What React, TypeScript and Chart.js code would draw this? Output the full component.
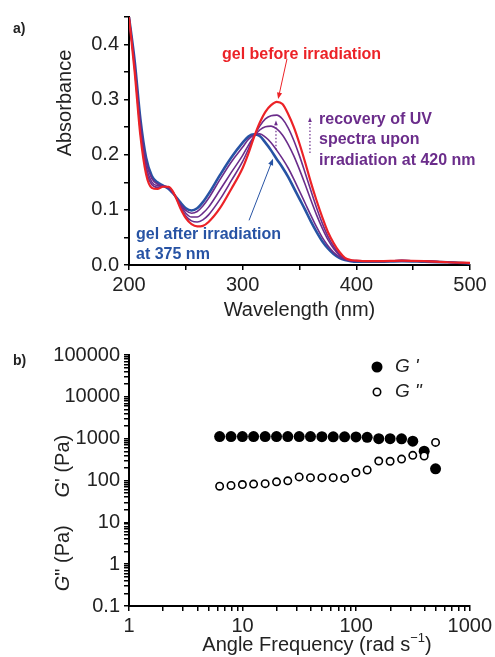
import React, { useEffect, useRef } from 'react';
import { Chart, registerables } from 'chart.js';

Chart.register(...registerables);

const FONT = '"Liberation Sans", Arial, Helvetica, sans-serif';

// ---------- Panel a: UV-vis spectra ----------
const WAVELENGTH = [200, 205, 210, 215, 220, 225, 230, 235, 240, 245, 250, 255, 260, 265, 270, 280, 290, 300, 305, 310, 315, 320, 325, 330, 335, 340, 345, 350, 355, 360, 365, 370, 375, 380, 385, 390, 395, 400, 410, 420, 440, 460, 480, 500];

const ABS_BEFORE = [0.45, 0.35, 0.235, 0.165, 0.140, 0.138, 0.142, 0.142, 0.128, 0.104, 0.085, 0.074, 0.070, 0.071, 0.078, 0.103, 0.138, 0.176, 0.202, 0.232, 0.258, 0.278, 0.290, 0.296, 0.292, 0.274, 0.250, 0.220, 0.186, 0.150, 0.117, 0.087, 0.060, 0.040, 0.024, 0.013, 0.009, 0.008, 0.007, 0.007, 0.008, 0.007, 0.005, 0.004];
const ABS_STEP3 = [0.45, 0.355, 0.242, 0.172, 0.146, 0.141, 0.143, 0.141, 0.128, 0.106, 0.089, 0.080, 0.078, 0.082, 0.091, 0.119, 0.153, 0.188, 0.210, 0.233, 0.252, 0.265, 0.271, 0.272, 0.265, 0.249, 0.226, 0.198, 0.167, 0.135, 0.104, 0.076, 0.052, 0.034, 0.020, 0.012, 0.008, 0.008, 0.007, 0.007, 0.008, 0.007, 0.005, 0.003];
const ABS_STEP2 = [0.45, 0.36, 0.250, 0.180, 0.151, 0.144, 0.143, 0.140, 0.127, 0.109, 0.094, 0.087, 0.087, 0.094, 0.105, 0.136, 0.168, 0.199, 0.217, 0.233, 0.245, 0.251, 0.252, 0.247, 0.236, 0.219, 0.198, 0.173, 0.146, 0.118, 0.091, 0.067, 0.046, 0.030, 0.018, 0.011, 0.008, 0.007, 0.007, 0.007, 0.008, 0.007, 0.005, 0.003];
const ABS_STEP1 = [0.45, 0.365, 0.258, 0.188, 0.157, 0.147, 0.143, 0.139, 0.127, 0.111, 0.099, 0.094, 0.097, 0.107, 0.121, 0.155, 0.187, 0.214, 0.228, 0.236, 0.238, 0.232, 0.222, 0.208, 0.193, 0.176, 0.156, 0.134, 0.112, 0.090, 0.069, 0.050, 0.035, 0.023, 0.015, 0.010, 0.007, 0.007, 0.007, 0.007, 0.008, 0.007, 0.005, 0.003];
const ABS_AFTER = [0.45, 0.37, 0.265, 0.195, 0.162, 0.150, 0.144, 0.138, 0.127, 0.114, 0.103, 0.099, 0.103, 0.114, 0.129, 0.163, 0.195, 0.222, 0.233, 0.237, 0.234, 0.222, 0.208, 0.192, 0.177, 0.160, 0.140, 0.120, 0.100, 0.079, 0.060, 0.043, 0.030, 0.020, 0.013, 0.009, 0.007, 0.006, 0.006, 0.006, 0.007, 0.006, 0.005, 0.003];

const A_X_MAJOR = [200, 300, 400, 500];
const A_Y_MAJOR = [0.0, 0.1, 0.2, 0.3, 0.4];

const RED = '#ec2227';
const PURPLE = '#6b2d8b';
const BLUE = '#2753a4';

// annotation anchors (data units)
const TXT_BEFORE = { text: 'gel before irradiation', x: 281.8, y: 0.382 };
const TXT_RECOVERY = [
  { text: 'recovery of UV', x: 367.2, y: 0.2646 },
  { text: 'spectra upon', x: 367.2, y: 0.2268 },
  { text: 'irradiation at 420 nm', x: 367.2, y: 0.189 },
];
const TXT_AFTER = [
  { text: 'gel after irradiation', x: 206.2, y: 0.0558 },
  { text: 'at 375 nm', x: 206.2, y: 0.018 },
];
const ARROW_BEFORE = [339, 0.374, 331.2, 0.301];
const ARROW_AFTER = [305.6, 0.081, 326.7, 0.193];
const DOT_ARROW_1 = [329.3, 0.209, 329.3, 0.262];
const DOT_ARROW_2 = [359.2, 0.203, 359.2, 0.268];

// ---------- Panel b: rheology ----------
const FREQ = [6.28, 7.91, 9.96, 12.5, 15.8, 19.9, 25.0, 31.5, 39.6, 49.9, 62.8, 79.1, 99.6, 125, 158, 199, 251, 315, 397, 500];
const G_STORAGE = [1120, 1120, 1120, 1120, 1120, 1120, 1120, 1120, 1120, 1115, 1110, 1110, 1100, 1080, 1000, 1000, 990, 870, 500, 190];
const G_LOSS = [73, 76, 80, 82, 84, 93, 98, 122, 117, 117, 117, 112, 155, 178, 292, 288, 325, 400, 385, 815];

const B_X_DECADES = [1, 10, 100, 1000];
const B_Y_DECADES = [0.1, 1, 10, 100, 1000, 10000, 100000];

function logTicks(decades: number[]) {
  const out: number[] = [];
  for (let i = 0; i < decades.length; i++) {
    const d = decades[i];
    out.push(d);
    if (i < decades.length - 1) {
      for (let m = 2; m <= 9; m++) out.push(+(m * d).toPrecision(6));
    }
  }
  return out;
}

function isIn(list: number[], v: number) {
  return list.some((t) => Math.abs(t - v) < 1e-9 * Math.max(1, Math.abs(t)));
}

function arrow(ctx: CanvasRenderingContext2D, x1: number, y1: number, x2: number, y2: number, color: string, width: number, dash: number[] | null, head: number) {
  ctx.save();
  ctx.strokeStyle = color;
  ctx.fillStyle = color;
  ctx.lineWidth = width;
  if (dash) ctx.setLineDash(dash);
  const ang = Math.atan2(y2 - y1, x2 - x1);
  const bx = x2 - Math.cos(ang) * head * 0.8;
  const by = y2 - Math.sin(ang) * head * 0.8;
  ctx.beginPath();
  ctx.moveTo(x1, y1);
  ctx.lineTo(bx, by);
  ctx.stroke();
  ctx.setLineDash([]);
  ctx.beginPath();
  ctx.moveTo(x2, y2);
  ctx.lineTo(x2 - Math.cos(ang - 0.38) * head, y2 - Math.sin(ang - 0.38) * head);
  ctx.lineTo(x2 - Math.cos(ang + 0.38) * head, y2 - Math.sin(ang + 0.38) * head);
  ctx.closePath();
  ctx.fill();
  ctx.restore();
}

const annotA = {
  id: 'annotA',
  afterDraw(chart: any) {
    const { ctx } = chart;
    const xs = chart.scales.x;
    const ys = chart.scales.y;
    const px = (v: number) => xs.getPixelForValue(v);
    const py = (v: number) => ys.getPixelForValue(v);
    ctx.save();
    ctx.textBaseline = 'middle';
    ctx.textAlign = 'left';
    ctx.font = `bold 16px ${FONT}`;
    ctx.fillStyle = RED;
    ctx.fillText(TXT_BEFORE.text, px(TXT_BEFORE.x), py(TXT_BEFORE.y));
    ctx.fillStyle = PURPLE;
    TXT_RECOVERY.forEach((t) => ctx.fillText(t.text, px(t.x), py(t.y)));
    ctx.fillStyle = BLUE;
    TXT_AFTER.forEach((t) => ctx.fillText(t.text, px(t.x), py(t.y)));

    arrow(ctx, px(ARROW_BEFORE[0]), py(ARROW_BEFORE[1]), px(ARROW_BEFORE[2]), py(ARROW_BEFORE[3]), RED, 1, null, 7);
    arrow(ctx, px(ARROW_AFTER[0]), py(ARROW_AFTER[1]), px(ARROW_AFTER[2]), py(ARROW_AFTER[3]), BLUE, 1, null, 7);
    arrow(ctx, px(DOT_ARROW_1[0]), py(DOT_ARROW_1[1]), px(DOT_ARROW_1[2]), py(DOT_ARROW_1[3]), PURPLE, 1.2, [1.5, 2], 5);
    arrow(ctx, px(DOT_ARROW_2[0]), py(DOT_ARROW_2[1]), px(DOT_ARROW_2[2]), py(DOT_ARROW_2[3]), PURPLE, 1.2, [1.5, 2], 5);

    // axis titles
    ctx.fillStyle = '#222';
    ctx.font = `20px ${FONT}`;
    ctx.textAlign = 'center';
    ctx.fillText('Wavelength (nm)', (chart.chartArea.left + chart.chartArea.right) / 2, 310);
    ctx.save();
    ctx.translate(65, 103);
    ctx.rotate(-Math.PI / 2);
    ctx.fillText('Absorbance', 0, 0);
    ctx.restore();
    ctx.restore();
  },
};

const annotB = {
  id: 'annotB',
  afterDraw(chart: any) {
    const { ctx } = chart;
    ctx.save();
    ctx.fillStyle = '#222';
    ctx.textBaseline = 'middle';
    // x title with superscript
    const base = `20px ${FONT}`;
    const sup = `13px ${FONT}`;
    const p1 = 'Angle Frequency (rad s';
    const p2 = '\u22121';
    const p3 = ')';
    ctx.font = base;
    const w1 = ctx.measureText(p1).width;
    const w3 = ctx.measureText(p3).width;
    ctx.font = sup;
    const w2 = ctx.measureText(p2).width;
    const total = w1 + w2 + w3;
    let x = 317 - total / 2;
    const y = 315;
    ctx.textAlign = 'left';
    ctx.font = base;
    ctx.fillText(p1, x, y);
    x += w1;
    ctx.font = sup;
    ctx.fillText(p2, x, y - 7);
    x += w2;
    ctx.font = base;
    ctx.fillText(p3, x, y);

    // y title: G" (Pa)   G' (Pa)
    const segs: [string, string][] = [
      ['G', `italic 20px ${FONT}`],
      ['" (Pa)', base],
      ['     ', base],
      ['G', `italic 20px ${FONT}`],
      ["' (Pa)", base],
    ];
    let tw = 0;
    segs.forEach(([t, f]) => { ctx.font = f; tw += ctx.measureText(t).width; });
    ctx.save();
    ctx.translate(63, 183);
    ctx.rotate(-Math.PI / 2);
    let sx = -tw / 2;
    segs.forEach(([t, f]) => { ctx.font = f; ctx.fillText(t, sx, 0); sx += ctx.measureText(t).width; });
    ctx.restore();

    // legend
    ctx.fillStyle = '#000';
    ctx.beginPath();
    ctx.arc(377, 37, 5.5, 0, Math.PI * 2);
    ctx.fill();
    ctx.fillStyle = '#fff';
    ctx.strokeStyle = '#000';
    ctx.lineWidth = 1.6;
    ctx.beginPath();
    ctx.arc(377, 62, 3.7, 0, Math.PI * 2);
    ctx.fill();
    ctx.stroke();
    ctx.fillStyle = '#222';
    ctx.font = `italic 19px ${FONT}`;
    ctx.fillText("G '", 395, 37);
    ctx.fillText('G "', 395, 62);
    ctx.restore();
  },
};

const axisStyle = {
  grid: { drawOnChartArea: false, drawTicks: true, tickLength: 5, color: '#000', tickColor: '#000', tickWidth: 1.5, lineWidth: 1.5 },
  border: { color: '#000', width: 2 },
};

export default function App() {
  const refA = useRef<HTMLCanvasElement>(null);
  const refB = useRef<HTMLCanvasElement>(null);

  useEffect(() => {
    const ds = (data: number[], color: string, width: number) => ({
      data,
      borderColor: color,
      backgroundColor: color,
      borderWidth: width,
      pointRadius: 0,
      fill: false,
      cubicInterpolationMode: 'monotone' as const,
    });
    const chartA = new Chart(refA.current!, {
      type: 'line',
      data: {
        labels: WAVELENGTH,
        datasets: [
          ds(ABS_BEFORE, RED, 2.2),
          ds(ABS_STEP3, PURPLE, 1.6),
          ds(ABS_STEP2, PURPLE, 1.6),
          ds(ABS_STEP1, PURPLE, 1.6),
          ds(ABS_AFTER, BLUE, 2.6),
        ],
      },
      options: {
        animation: false,
        responsive: false,
        maintainAspectRatio: false,
        layout: { padding: { left: 0, right: 25, top: 15, bottom: 0 } },
        plugins: { legend: { display: false }, tooltip: { enabled: false } },
        scales: {
          x: {
            type: 'linear',
            min: 200,
            max: 500,
            afterFit: (s: any) => { s.height = 65; },
            ticks: {
              stepSize: 50,
              autoSkip: false,
              maxRotation: 0,
              padding: 3,
              color: '#222',
              font: { size: 20, family: FONT },
              callback: (v: any) => (isIn(A_X_MAJOR, Number(v)) ? String(v) : ''),
            },
            ...axisStyle,
          },
          y: {
            min: 0,
            max: 0.45,
            afterFit: (s: any) => { s.width = 129; },
            ticks: {
              stepSize: 0.05,
              autoSkip: false,
              padding: 5,
              color: '#222',
              font: { size: 20, family: FONT },
              callback: (v: any) => (isIn(A_Y_MAJOR, Number(v)) ? Number(v).toFixed(1) : ''),
            },
            ...axisStyle,
          },
        },
      },
      plugins: [annotA],
    });

    const chartB = new Chart(refB.current!, {
      type: 'scatter',
      data: {
        datasets: [
          {
            data: FREQ.map((f, i) => ({ x: f, y: G_LOSS[i] })),
            pointStyle: 'circle',
            pointRadius: 3.7,
            pointBorderWidth: 1.6,
            pointBackgroundColor: '#fff',
            pointBorderColor: '#000',
          },
          {
            data: FREQ.map((f, i) => ({ x: f, y: G_STORAGE[i] })),
            pointStyle: 'circle',
            pointRadius: 5.5,
            pointBorderWidth: 0,
            pointBackgroundColor: '#000',
            pointBorderColor: '#000',
          },
        ],
      },
      options: {
        animation: false,
        responsive: false,
        maintainAspectRatio: false,
        layout: { padding: { left: 0, right: 25, top: 25, bottom: 0 } },
        plugins: { legend: { display: false }, tooltip: { enabled: false } },
        scales: {
          x: {
            type: 'logarithmic',
            min: 1,
            max: 1000,
            afterFit: (s: any) => { s.height = 51; },
            afterBuildTicks: (s: any) => { s.ticks = logTicks(B_X_DECADES).map((v) => ({ value: v })); },
            ticks: {
              autoSkip: false,
              maxRotation: 0,
              padding: 3,
              color: '#222',
              font: { size: 20, family: FONT },
              callback: (v: any) => (isIn(B_X_DECADES, Number(v)) ? String(v) : ''),
            },
            ...axisStyle,
          },
          y: {
            type: 'logarithmic',
            min: 0.1,
            max: 100000,
            afterFit: (s: any) => { s.width = 129; },
            afterBuildTicks: (s: any) => { s.ticks = logTicks(B_Y_DECADES).map((v) => ({ value: v })); },
            ticks: {
              autoSkip: false,
              padding: 4,
              color: '#222',
              font: { size: 20, family: FONT },
              callback: (v: any) => (isIn(B_Y_DECADES, Number(v)) ? String(v) : ''),
            },
            ...axisStyle,
          },
        },
      },
      plugins: [annotB],
    });

    return () => {
      chartA.destroy();
      chartB.destroy();
    };
  }, []);

  const labelStyle: React.CSSProperties = {
    position: 'absolute',
    left: 13,
    font: `bold 14px ${FONT}`,
    color: '#222',
    lineHeight: '16px',
  };

  return (
    <div style={{ position: 'fixed', left: 0, top: 0, width: 495, height: 657, background: '#fff', overflow: 'hidden' }}>
      <canvas ref={refA} width={495} height={330} style={{ position: 'absolute', left: 0, top: 0, width: 495, height: 330 }} />
      <canvas ref={refB} width={495} height={327} style={{ position: 'absolute', left: 0, top: 330, width: 495, height: 327 }} />
      <div style={{ ...labelStyle, top: 20 }}>a)</div>
      <div style={{ ...labelStyle, top: 352 }}>b)</div>
    </div>
  );
}
